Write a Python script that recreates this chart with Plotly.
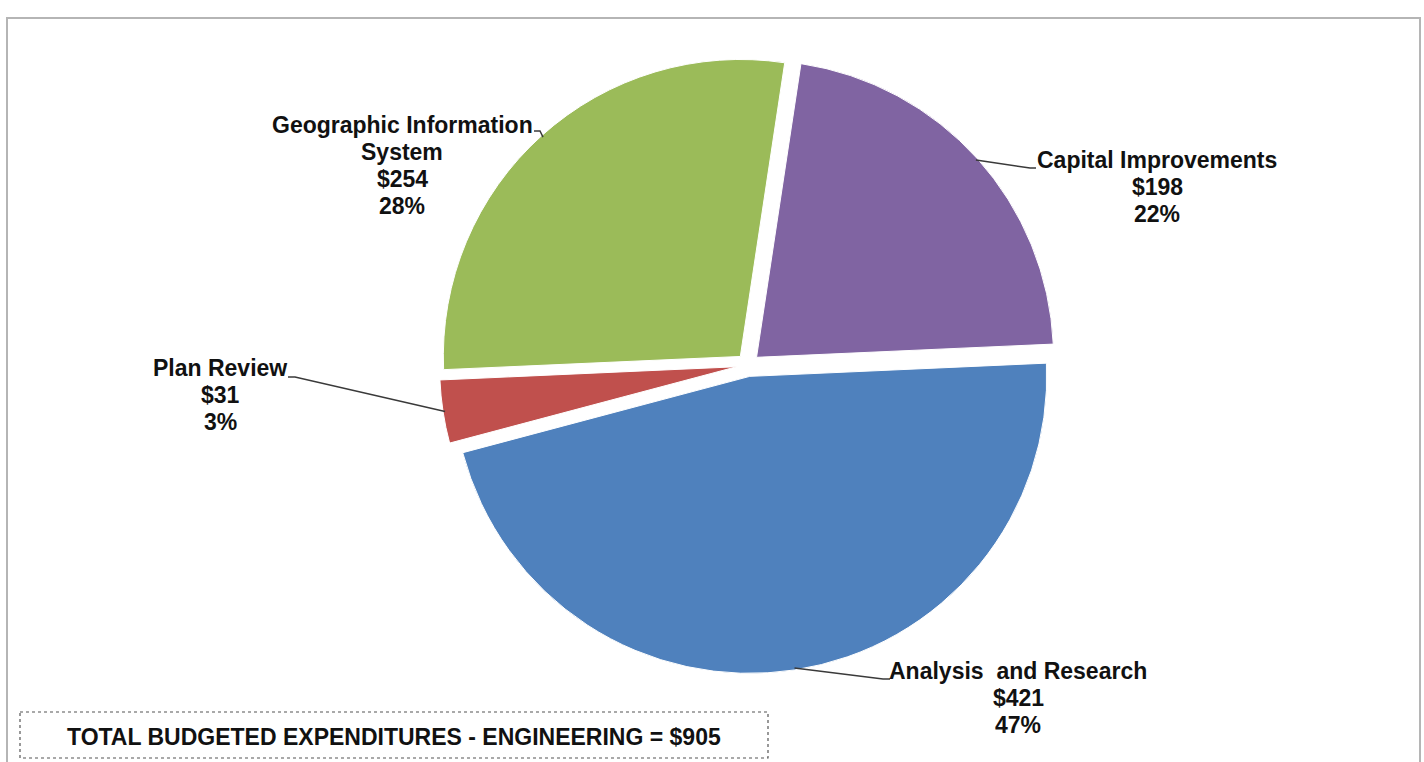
import math
import plotly.graph_objects as go

# Engineering budget by program ($000)
programs = ["Capital Improvements", "Analysis and Research", "Plan Review",
            "Geographic Information System"]
label_names = [["Capital Improvements"], ["Analysis\u00a0 and Research"], ["Plan Review"],
               ["Geographic Information", "System"]]
amounts = [198, 421, 31, 254]
colors = ["#8064A2", "#4F81BD", "#C0504D", "#9BBB59"]
total_budget = 905

W, H = 1424, 762
cx, cy = 748.0, 365.0          # pie centre in pixels
radius = 297.0
pull = 0.0387
rotation = 8.6                  # first slice starts this many degrees clockwise of 12 o'clock

half = radius * (1 + pull)
domain_x = [(cx - half) / W, (cx + half) / W]
domain_y = [1 - (cy + half) / H, 1 - (cy - half) / H]

fig = go.Figure()
fig.add_trace(go.Pie(
    labels=programs, values=amounts, sort=False, direction="clockwise",
    rotation=rotation, pull=[pull] * len(amounts),
    marker=dict(colors=colors, line=dict(color="white", width=1)),
    textinfo="none", hoverinfo="label+value+percent", showlegend=False,
    domain=dict(x=domain_x, y=domain_y),
))

# Invisible pixel-space axes for labels, leader lines and boxes
fig.add_trace(go.Scatter(x=[0, W], y=[0, H], mode="markers",
                         marker=dict(opacity=0), hoverinfo="skip", showlegend=False))

FONT = dict(family="Liberation Sans, Arial, sans-serif", size=23, color="#111111")
LINE_STEP = 27

# centre x / first-line y of each label, and where each leader line leaves it
label_pos = [(1157, 160), (1018, 671), (220, 368), (402, 125)]
leader_start = [(1036, 168), (890, 679), (288, 377), (534, 131)]
leader_elbow = [(1030, 168), (883, 679), (295, 377), (540, 131)]

shapes = []
annotations = []
start = rotation
for i, v in enumerate(amounts):
    span = 360.0 * v / sum(amounts)
    mid = math.radians(start + span / 2)
    start += span
    tip_r = radius * (1 + pull) - 2
    tx = cx + tip_r * math.sin(mid)
    ty = cy - tip_r * math.cos(mid)
    (sx, sy), (ex, ey) = leader_start[i], leader_elbow[i]
    shapes.append(dict(type="path", xref="x", yref="y",
                       path=f"M {sx} {sy} L {ex} {ey} L {tx:.1f} {ty:.1f}",
                       line=dict(color="#3a3a3a", width=1.5)))
    pct = round(100 * v / total_budget)
    lines = label_names[i] + [f"${v}", f"{pct}%"]
    lx, ly = label_pos[i]
    for k, line in enumerate(lines):
        annotations.append(dict(
            x=lx, y=ly + k * LINE_STEP, xref="x", yref="y", showarrow=False,
            xanchor="center", yanchor="middle", text=f"<b>{line}</b>", font=FONT,
        ))

# chart frame (open at the bottom edge of the page)
shapes.append(dict(type="rect", xref="x", yref="y", x0=7, y0=18, x1=1420, y1=780,
                   line=dict(color="#b5b5b5", width=2)))
# total box
shapes.append(dict(type="rect", xref="x", yref="y", x0=20, y0=712, x1=768, y1=758,
                   line=dict(color="#555555", width=1.2, dash="dot")))
annotations.append(dict(
    x=394, y=737, xref="x", yref="y", showarrow=False, xanchor="center", yanchor="middle",
    text=f"<b>TOTAL BUDGETED EXPENDITURES - ENGINEERING = ${total_budget}</b>", font=FONT,
))

fig.update_layout(
    width=W, height=H, margin=dict(l=0, r=0, t=0, b=0),
    paper_bgcolor="white", plot_bgcolor="rgba(0,0,0,0)",
    xaxis=dict(range=[0, W], visible=False, domain=[0, 1], fixedrange=True),
    yaxis=dict(range=[H, 0], visible=False, domain=[0, 1], fixedrange=True),
    shapes=shapes, annotations=annotations, showlegend=False,
)

fig.write_html("out.html", config={"displayModeBar": False})
